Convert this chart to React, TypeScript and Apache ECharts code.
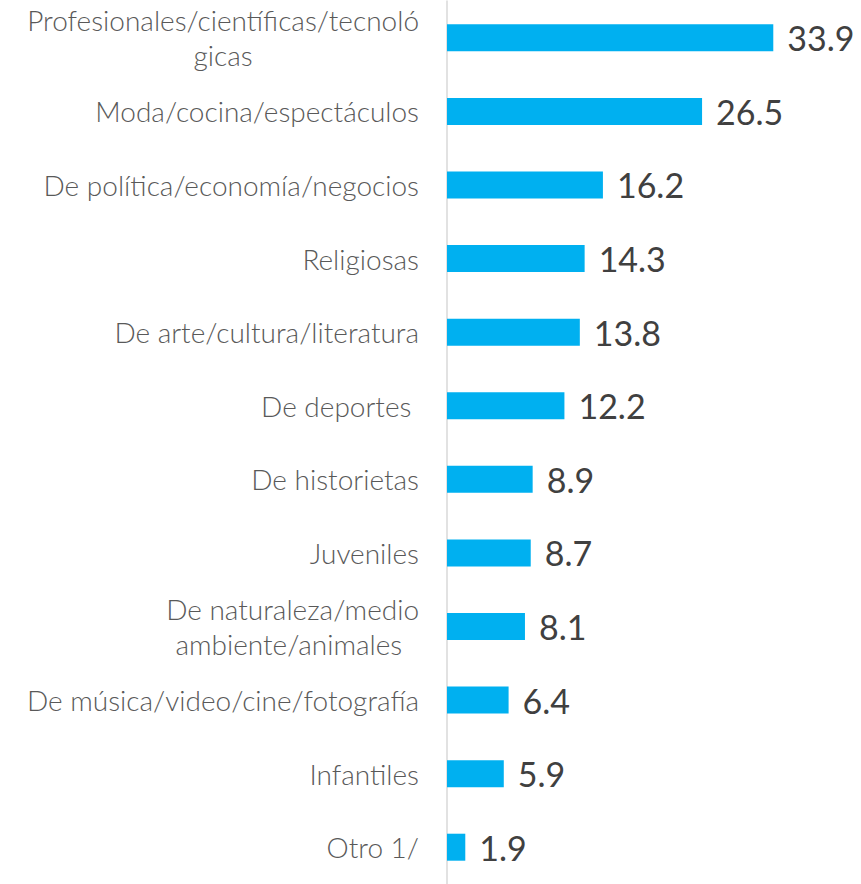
import React, { useEffect, useRef } from "react";
import * as echarts from "echarts";

const categories: string[] = [
  "Profesionales/científicas/tecnoló\ngicas",
  "Moda/cocina/espectáculos",
  "De política/economía/negocios",
  "Religiosas",
  "De arte/cultura/literatura",
  "De deportes ",
  "De historietas",
  "Juveniles",
  "De naturaleza/medio\nambiente/animales ",
  "De música/video/cine/fotografía",
  "Infantiles",
  "Otro 1/",
];

const values: number[] = [33.9, 26.5, 16.2, 14.3, 13.8, 12.2, 8.9, 8.7, 8.1, 6.4, 5.9, 1.9];

export default function App() {
  const ref = useRef<HTMLDivElement>(null);
  useEffect(() => {
    if (!ref.current) return;
    const chart = echarts.init(ref.current, null, { renderer: "svg" });
    chart.setOption({
      animation: false,
      grid: { left: 447, right: 29, top: 1, bottom: -3, containLabel: false },
      xAxis: {
        type: "value",
        min: 0,
        max: 40,
        show: false,
      },
      yAxis: {
        type: "category",
        inverse: true,
        data: categories,
        axisLine: { show: true, lineStyle: { color: "#d9d9d9", width: 1.5 } },
        axisTick: { show: false },
        splitLine: { show: false },
        axisLabel: {
          margin: 28,
          color: "#595959",
          fontFamily: "Lato",
          fontSize: 28,
          lineHeight: 35,
          formatter: (v: string) =>
            v
              .split("\n")
              .map((l) => `{c|${l}}`)
              .join("\n"),
          rich: {
            c: {
              align: "center",
              color: "#595959",
              fontFamily: "Lato",
              fontSize: 28,
              fontWeight: 300,
              lineHeight: 35,
            },
          },
        },
      },
      series: [
        {
          type: "bar",
          data: values,
          barWidth: 27,
          itemStyle: { color: "#00B0F0" },
          label: {
            show: true,
            position: "right",
            distance: 14,
            color: "#404040",
            fontFamily: "Lato",
            fontSize: 34,
            formatter: (p: any) => p.value.toFixed(1),
          },
        },
      ],
    });
    return () => chart.dispose();
  }, []);
  return (
    <div
      ref={ref}
      style={{ position: "fixed", left: 0, top: 0, width: 861, height: 884, background: "#fff" }}
    />
  );
}
